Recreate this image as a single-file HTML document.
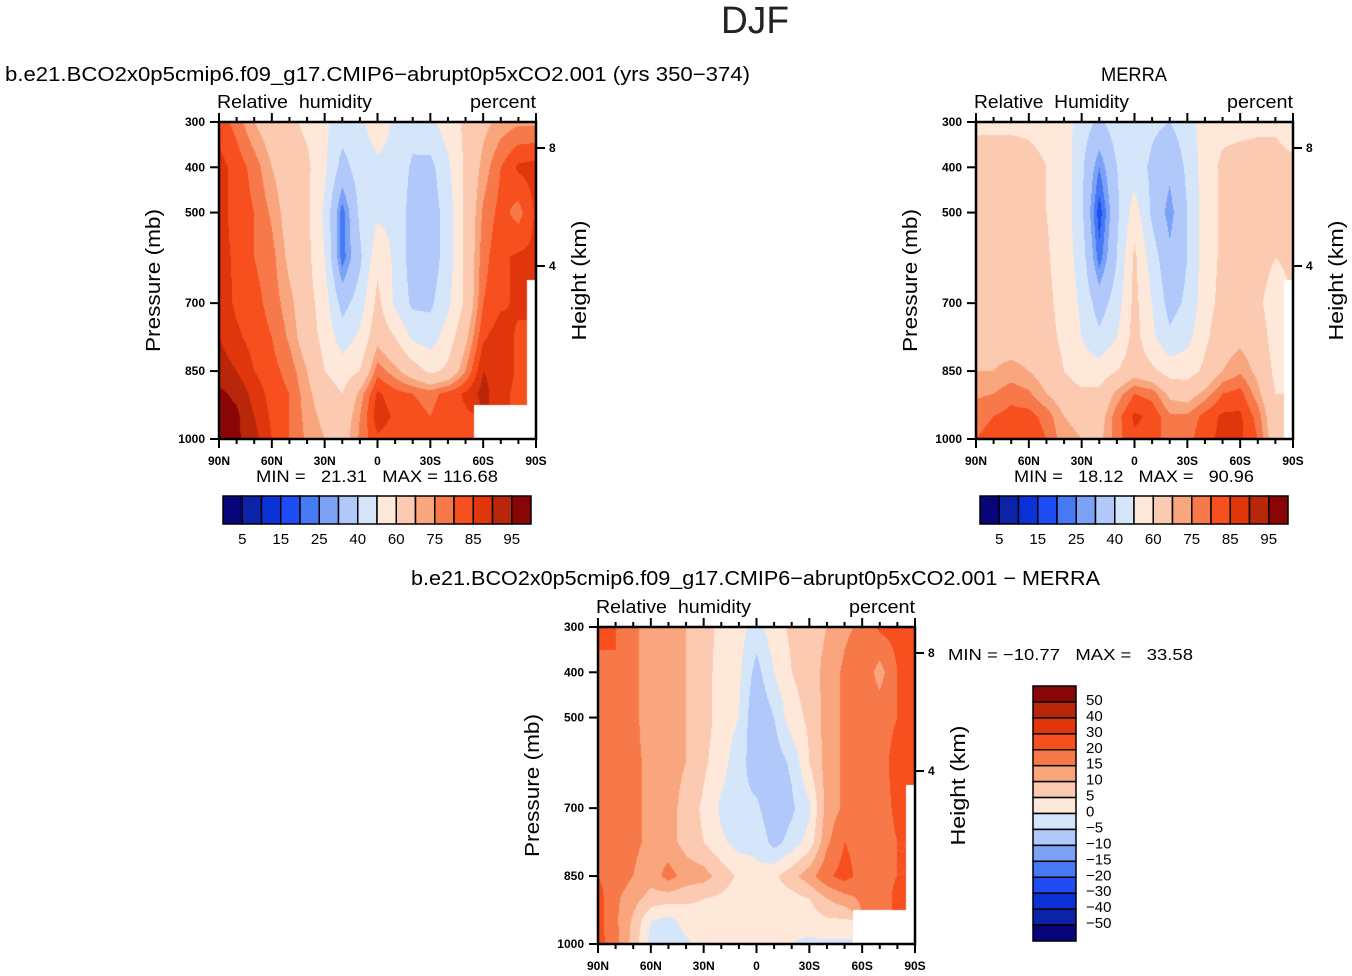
<!DOCTYPE html>
<html><head><meta charset="utf-8">
<style>
body{margin:0;background:#fff;}
#root{position:relative;width:1352px;height:976px;overflow:hidden;font-family:"Liberation Sans",sans-serif;color:#000;}
canvas{position:absolute;}
text{white-space:pre;}
</style></head>
<body>
<div id="root">
<svg id="ov" width="1352" height="976" style="position:absolute;left:0;top:0"></svg>
</div>
<script>
// ---- data ----
const lats = ['90N','80N','70N','60N','50N','40N','30N','20N','10N','0','10S','20S','30S','40S','50S','60S','70S','80S','90S'];
const pressures = [300,400,500,600,700,775,850,900,950,1000];
const rhLevels = [5,10,15,20,25,30,40,50,60,70,75,80,85,90,95];
const diffLevels = [-50,-40,-30,-20,-15,-10,-5,0,5,10,15,20,30,40,50];
const N = null;
const modelRH = [
[83,78,70,65,62,58,52,45,48,55,48,45,48,55,62,68,72,74,74],
[87,83,78,70,65,62,52,36,45,48,48,38,37,48,62,72,80,86,87],
[87,83,80,74,66,62,48,22,42,48,48,35,34,45,62,76,82,78,86],
[87,84,80,77,68,63,50,22,38,57,48,35,34,45,62,78,84,86,86],
[88,84,82,78,72,64,55,36,45,63,48,38,38,48,62,80,84,86,N],
[90,86,83,80,74,65,57,45,52,67,60,48,45,55,68,84,88,84,N],
[93,90,85,82,78,70,60,55,60,78,72,65,58,62,75,90,88,84,N],
[96,94,88,83,80,72,65,60,72,86,82,80,78,82,86,92,86,84,N],
[97,96,90,84,80,73,68,64,75,88,84,82,80,84,84,N,N,N,N],
[97,96,92,85,80,74,70,66,76,84,82,80,80,84,84,N,N,N,N]];
const merraRH = [
[58,58,58,58,57,55,45,38,45,48,42,40,45,55,57,57,58,58,55],
[65,65,65,63,60,56,42,25,40,45,38,32,42,55,62,64,64,64,62],
[65,65,65,64,60,56,42,17,38,55,38,27,40,55,62,64,64,64,62],
[65,65,65,64,61,56,45,22,40,62,45,32,40,55,62,64,64,60,62],
[66,66,65,64,62,57,48,35,45,63,50,36,42,56,63,65,62,55,N],
[67,67,66,66,63,58,50,42,50,64,52,42,47,58,66,68,65,56,N],
[70,70,72,70,66,60,55,55,60,66,62,56,56,62,70,74,68,58,N],
[74,75,78,76,70,65,62,62,72,80,78,68,66,72,80,82,72,60,N],
[78,80,82,82,78,70,68,66,78,86,84,76,76,82,86,86,78,62,N],
[80,82,84,84,80,72,70,68,78,84,82,78,78,84,86,86,80,64,N]];
const diffRH = [
[22,20,16,13,12,10,8,3,2,-2,3,6,7,10,14,16,21,22,22],
[18,20,16,13,12,10,7,3,1,-7,0,5,7,12,16,19,13,20,21],
[16,18,16,13,12,10,7,3,0,-10,-5,3,6,12,16,18,18,20,21],
[16,18,16,14,12,10,6,2,-3,-8,-8,-4,5,12,16,20,18,22,22],
[17,18,16,14,12,8,4,-1,-4,-4,-9,-6,-1,12,16,18,18,21,N],
[18,18,16,14,12,8,5,1,-2,-1,-7,-3,2,14,20,18,18,20,N],
[20,18,15,12,17,13,12,8,4,1,4,8,13,19,22,18,18,20,N],
[22,16,12,8,7,6,5,4,2,4,3,3,5,10,13,16,16,22,N],
[22,16,9,0,-2,2,3,3,2,2,2,2,2,4,4,N,N,N,N],
[22,17,8,-2,-3,-1,2,2,2,2,1,0,-1,-1,-1,N,N,N,N]];
const yTicks = [300,400,500,700,850,1000];
const xTickLabels = ['90N','60N','30N','0','30S','60S','90S'];
const rhBarLabels = ['5','15','25','40','60','75','85','95'];
const diffBarLabels = ['50','40','30','20','15','10','5','0','\u22125','\u221210','\u221215','\u221220','\u221230','\u221240','\u221250'];
const palette = ['#06067a','#0a23a8','#0a32d6','#1e4cf5','#467af5','#7ca2f7','#b0c8fa','#d6e6fa','#fde8d9','#fbcab0','#f9a67e','#f7794a','#f84f1e','#e1360b','#b8270a','#8a0505'];

const svg = document.getElementById('ov');
const root = document.getElementById('root');
const NS='http://www.w3.org/2000/svg';
function mk(tag, attrs, parent){const e=document.createElementNS(NS,tag);for(const k in attrs)e.setAttribute(k,attrs[k]);(parent||svg).appendChild(e);return e;}
function txt(x,y,s,size,anchor,name,extra){const t=mk('text',Object.assign({x:x,y:y,'font-size':size,'text-anchor':anchor||'start','font-family':'Liberation Sans, sans-serif'},extra||{}));t.textContent=s;


return t;}
function fit(len){return {textLength:len,lengthAdjust:'spacingAndGlyphs'};}
function levelIndex(v,levels){let i=0;while(i<levels.length&&v>=levels[i])i++;return i;}

function drawPanel(p){
  const x0=p.x,y0=p.y,w=p.w,h=p.h;
  const xs=i=>x0+i*w/(lats.length-1);
  const ys=pr=>y0+(pr-300)/700*h;
  const cv=document.createElement('canvas');cv.width=w;cv.height=h;cv.style.left=x0+'px';cv.style.top=y0+'px';
  
  
  root.insertBefore(cv, svg);
  const ctx=cv.getContext('2d');const img=ctx.createImageData(w,h);
  const rgb=palette.map(c=>[parseInt(c.substr(1,2),16),parseInt(c.substr(3,2),16),parseInt(c.substr(5,2),16)]);
  for(let py=0;py<h;py++){
    const pr=300+(py+0.5)/h*700;
    let r=0;while(r<pressures.length-2&&pr>pressures[r+1])r++;
    const fy=Math.min(1,Math.max(0,(pr-pressures[r])/(pressures[r+1]-pressures[r])));
    for(let px=0;px<w;px++){
      const gx=(px+0.5)/w*(lats.length-1);
      const c=Math.min(lats.length-2,Math.floor(gx));const fx=gx-c;
      const nr=fy<0.5?r:r+1,nc=fx<0.5?c:c+1;
      let col=[255,255,255];
      if(p.data[nr][nc]!==null){
        const pts=[[r,c,(1-fx)*(1-fy)],[r,c+1,fx*(1-fy)],[r+1,c,(1-fx)*fy],[r+1,c+1,fx*fy]];
        let s=0,ws=0;for(const q of pts){const v=p.data[q[0]][q[1]];if(v!==null){s+=v*q[2];ws+=q[2];}}
        col=rgb[levelIndex(s/ws,p.levels)];
      }
      const k=(py*w+px)*4;img.data[k]=col[0];img.data[k+1]=col[1];img.data[k+2]=col[2];img.data[k+3]=255;
    }
  }
  ctx.putImageData(img,0,0);
  const g=mk('g',{});
  
  
  mk('rect',{x:x0,y:y0,width:w,height:h,fill:'none',stroke:'#000','stroke-width':2.5},g);
  for(let i=0;i<lats.length;i++){const L=(i%3===0)?9:5;
    mk('line',{x1:xs(i),x2:xs(i),y1:y0,y2:y0-L,stroke:'#000','stroke-width':2},g);
    mk('line',{x1:xs(i),x2:xs(i),y1:y0+h,y2:y0+h+L,stroke:'#000','stroke-width':2},g);}
  xTickLabels.forEach((s,j)=>txt(xs(j*3),y0+h+26,s,12,'middle','x-tick-label',{'font-weight':'bold'}));
  yTicks.forEach(pr=>{mk('line',{x1:x0-9,x2:x0,y1:ys(pr),y2:ys(pr),stroke:'#000','stroke-width':2},g);
    txt(x0-14,ys(pr)+4,String(pr),12,'end','y-tick-label',{'font-weight':'bold'});});
  p.hTicks.forEach(ht=>{mk('line',{x1:x0+w,x2:x0+w+9,y1:ht[1],y2:ht[1],stroke:'#000','stroke-width':2},g);
    txt(x0+w+13,ht[1]+4,ht[0],12,'start','height-tick-label',{'font-weight':'bold'});});
  txt(x0-2,y0-14,p.left,18,'start','plot-left-string',fit(155));
  txt(x0+w,y0-14,'percent',18,'end','units-label',fit(66));
  txt(0,0,'Pressure (mb)',20,'middle','y-axis-title',Object.assign({transform:`translate(${x0-59},${y0+h/2}) rotate(-90)`},fit(143)));
  txt(0,0,'Height (km)',20,'middle','right-axis-title',Object.assign({transform:`translate(${x0+w+50},${y0+h/2}) rotate(-90)`},fit(120)));
}

// titles
txt(755,33,'DJF',38,'middle','main-title',Object.assign({'fill':'#222'},fit(68)));
txt(5,81,'b.e21.BCO2x0p5cmip6.f09_g17.CMIP6\u2212abrupt0p5xCO2.001 (yrs 350\u2212374)',20,'start','model-title',fit(745));
txt(1134,81,'MERRA',19,'middle','merra-title',fit(66));
txt(411,585,'b.e21.BCO2x0p5cmip6.f09_g17.CMIP6\u2212abrupt0p5xCO2.001 \u2212 MERRA',20,'start','difference-title',fit(689));

drawPanel({name:'model',x:219,y:122,w:317,h:317,data:modelRH,levels:rhLevels,left:'Relative  humidity',hTicks:[['8',148],['4',266]]});
drawPanel({name:'merra',x:976,y:122,w:317,h:317,data:merraRH,levels:rhLevels,left:'Relative  Humidity',hTicks:[['8',148],['4',266]]});
drawPanel({name:'difference',x:598,y:627,w:317,h:317,data:diffRH,levels:diffLevels,left:'Relative  humidity',hTicks:[['8',653],['4',771]]});

txt(256,482,'MIN =   21.31   MAX = 116.68',17,'start','model-min-max',fit(242));
txt(1014,482,'MIN =   18.12   MAX =   90.96',17,'start','merra-min-max',fit(240));
txt(948,660,'MIN = \u221210.77   MAX =   33.58',16,'start','difference-min-max',fit(245));

function hbar(x0,name){
  const bw=308/16;
  palette.forEach((c,i)=>{const r=mk('rect',{x:x0+i*bw,y:496,width:bw,height:28,fill:c,stroke:'#000','stroke-width':1.5});
    
    });
  rhBarLabels.forEach((s,j)=>txt(x0+(2*j+1)*bw,544,s,15,'middle',name+'-colorbar-label'));
}
hbar(223,'model');hbar(980,'merra');
(function(){const x0=1033,y0=686,bh=255/16;
  for(let i=0;i<16;i++){const r=mk('rect',{x:x0,y:y0+i*bh,width:43,height:bh,fill:palette[15-i],stroke:'#000','stroke-width':1.5});
    
    }
  diffBarLabels.forEach((s,j)=>txt(x0+53,y0+(j+1)*bh+3,s,15,'start','difference-colorbar-label'));
})();
</script>
</body></html>
